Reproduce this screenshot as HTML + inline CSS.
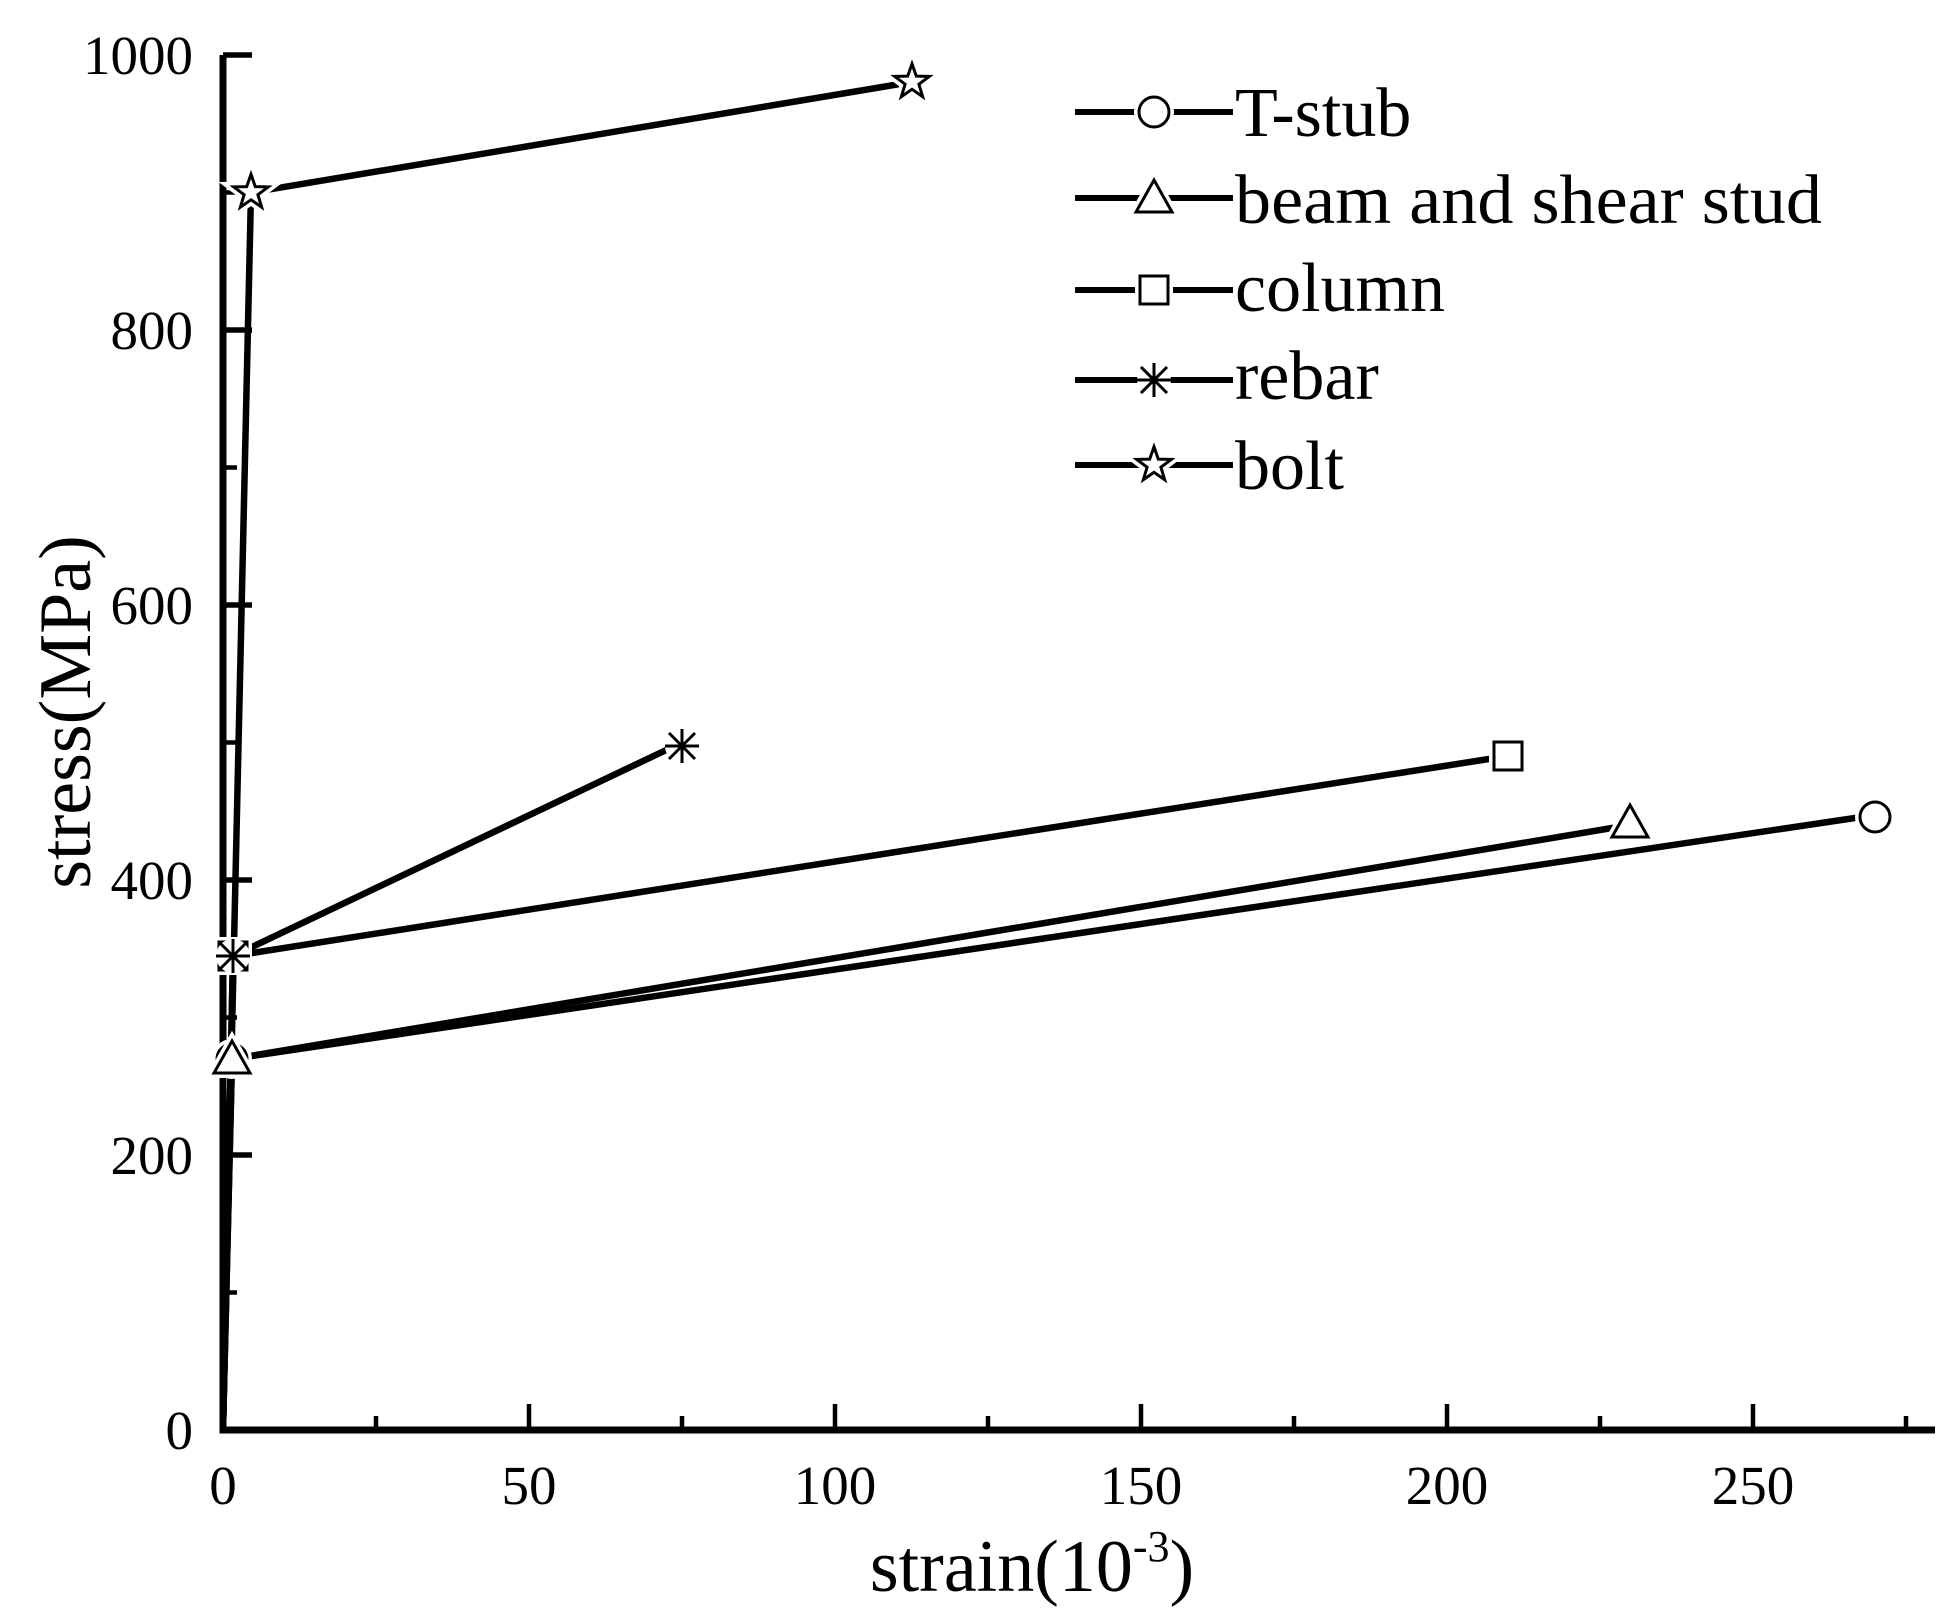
<!DOCTYPE html>
<html><head><meta charset="utf-8"><style>html,body{margin:0;padding:0;background:#fff}svg{display:block}</style></head>
<body>
<svg width="1957" height="1617" viewBox="0 0 1957 1617" xmlns="http://www.w3.org/2000/svg" font-family="Liberation Serif, serif">
<rect width="1957" height="1617" fill="#fff"/>
<defs>
<g id="circ"><circle r="15" fill="#fff" stroke="#fff" stroke-width="10"/><circle r="15" fill="#fff" stroke="#000" stroke-width="3"/></g>
<g id="tri"><path d="M0,-18 L18,14 L-18,14 Z" fill="#fff" stroke="#fff" stroke-width="10"/><path d="M0,-18 L18,14 L-18,14 Z" fill="#fff" stroke="#000" stroke-width="3"/></g>
<g id="sq"><rect x="-14" y="-14" width="28" height="28" fill="#fff" stroke="#fff" stroke-width="10"/><rect x="-14" y="-14" width="28" height="28" fill="#fff" stroke="#000" stroke-width="3"/></g>
<g id="ast"><circle r="17" fill="#fff"/><path d="M-17,0 H17 M0,-17 V17 M-13,-13 L13,13 M-13,13 L13,-13" stroke="#000" stroke-width="3"/></g>
<g id="star"><g transform="scale(1.3)"><path d="M0,-14 L3.3,-4.5 L13.3,-4.3 L5.3,1.7 L8.2,11.3 L0,5.6 L-8.2,11.3 L-5.3,1.7 L-13.3,-4.3 L-3.3,-4.5 Z" fill="#fff" stroke="#fff" stroke-width="8"/><path d="M0,-14 L3.3,-4.5 L13.3,-4.3 L5.3,1.7 L8.2,11.3 L0,5.6 L-8.2,11.3 L-5.3,1.7 L-13.3,-4.3 L-3.3,-4.5 Z" fill="#fff" stroke="#000" stroke-width="2.3"/></g></g>
</defs>
<g stroke="#000" fill="none">
<path d="M223,55 V1430 H1935" stroke-width="7"/>
<path d="M223,55 H252 M223,330 H252 M223,605 H252 M223,880 H252 M223,1155 H252" stroke-width="5.5"/>
<path d="M223,192.5 H237 M223,467.5 H237 M223,742.5 H237 M223,1017.5 H237 M223,1292.5 H237" stroke-width="4.5"/>
<path d="M529,1430 V1404 M835,1430 V1404 M1141,1430 V1404 M1447,1430 V1404 M1753,1430 V1404" stroke-width="4.5"/>
<path d="M376,1430 V1416 M682,1430 V1416 M988,1430 V1416 M1294,1430 V1416 M1600,1430 V1416 M1906,1430 V1416" stroke-width="4.5"/>
</g>
<g stroke="#000" stroke-width="6.5" fill="none">
<polyline points="223,1430 251,192.5 912,82"/>
<polyline points="223,1430 233,956 682,742.5"/>
<polyline points="223,1430 233,956 1508,756"/>
<polyline points="223,1430 232,1059 1630,825"/>
<polyline points="223,1430 232,1059 1875,815"/>
</g>
<use href="#circ" x="232" y="1059"/><use href="#tri" x="232" y="1059"/>
<use href="#sq" x="233" y="956"/><use href="#ast" x="233" y="956"/>
<use href="#star" x="251" y="192.5"/>
<use href="#star" x="912" y="82"/>
<use href="#ast" x="682" y="746"/>
<use href="#sq" x="1508" y="756"/>
<use href="#tri" x="1630" y="823"/>
<use href="#circ" x="1875" y="817"/>
<g font-size="55" text-anchor="end" fill="#000">
<text x="193" y="74">1000</text><text x="193" y="349">800</text><text x="193" y="624">600</text><text x="193" y="899">400</text><text x="193" y="1174">200</text><text x="193" y="1449">0</text>
</g>
<g font-size="55" text-anchor="middle" fill="#000">
<text x="223" y="1504">0</text><text x="529" y="1504">50</text><text x="835" y="1504">100</text><text x="1141" y="1504">150</text><text x="1447" y="1504">200</text><text x="1753" y="1504">250</text>
</g>
<text x="1032" y="1591" font-size="74" text-anchor="middle">strain(10<tspan font-size="44" dy="-30">-3</tspan><tspan dy="30">)</tspan></text>
<text transform="translate(90,712) rotate(-90)" font-size="74" text-anchor="middle">stress(MPa)</text>
<g stroke="#000" stroke-width="6">
<path d="M1075,112 H1233 M1075,198 H1233 M1075,290 H1233 M1075,380 H1233 M1075,465 H1233"/>
</g>
<use href="#circ" x="1154" y="112"/><use href="#tri" x="1154" y="198"/><use href="#sq" x="1154" y="290"/><use href="#ast" x="1154" y="380"/><use href="#star" x="1154" y="465"/>
<g font-size="70" fill="#000">
<text x="1235" y="136">T-stub</text>
<text x="1235" y="223" textLength="587" lengthAdjust="spacingAndGlyphs">beam and shear stud</text>
<text x="1235" y="311">column</text>
<text x="1235" y="399">rebar</text>
<text x="1235" y="489">bolt</text>
</g>
</svg>
</body></html>
